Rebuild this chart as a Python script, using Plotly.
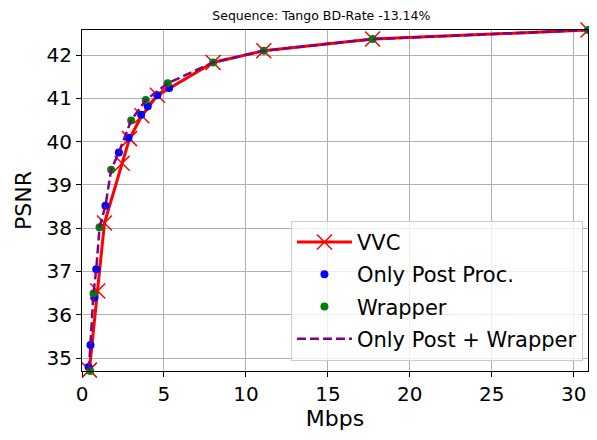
import plotly.graph_objects as go

# Data
vvc_rate = [0.45, 0.96, 1.37, 2.45, 2.90, 3.65, 4.60, 8.00, 11.09, 17.73, 30.87]
vvc_psnr = [34.72, 36.55, 38.12, 39.50, 40.07, 40.60, 41.07, 41.83, 42.10, 42.37, 42.58]

post_rate = [0.40, 0.52, 0.76, 0.87, 1.43, 2.25, 2.84, 3.61, 4.01, 4.60, 5.32]
post_psnr = [34.79, 35.30, 36.39, 37.05, 38.52, 39.75, 40.09, 40.62, 40.82, 41.07, 41.24]

wrap_rate = [0.50, 0.70, 1.07, 1.78, 3.00, 3.89, 5.23, 8.00, 11.09, 17.73, 30.87]
wrap_psnr = [34.70, 36.49, 38.02, 39.35, 40.49, 40.96, 41.35, 41.83, 42.10, 42.37, 42.58]

both_rate = [0.42, 0.52, 0.70, 0.87, 1.07, 1.43, 1.78, 2.25, 3.00, 3.89, 5.23, 8.00, 11.09, 17.73, 30.87]
both_psnr = [34.72, 35.30, 36.49, 37.05, 38.02, 38.52, 39.35, 39.75, 40.49, 40.96, 41.35, 41.83, 42.10, 42.37, 42.58]

x_ticks = [0, 5, 10, 15, 20, 25, 30]
y_ticks = [35, 36, 37, 38, 39, 40, 41, 42]

title_text = "Sequence: Tango BD-Rate -13.14%"

fig = go.Figure()
fig.add_trace(go.Scatter(
    x=vvc_rate, y=vvc_psnr, mode="lines+markers", name="VVC",
    line=dict(color="red", width=3),
    marker=dict(symbol="x-thin-open", size=15, color="red", line=dict(color="red", width=1.5)),
    legendgroup="a", cliponaxis=False))
fig.add_trace(go.Scatter(
    x=post_rate, y=post_psnr, mode="markers", name="Only Post Proc.",
    marker=dict(symbol="circle", size=8, color="blue"),
    legendgroup="b", cliponaxis=False))
fig.add_trace(go.Scatter(
    x=wrap_rate, y=wrap_psnr, mode="markers", name="Wrapper",
    marker=dict(symbol="circle", size=8, color="green"),
    legendgroup="c", cliponaxis=False))
fig.add_trace(go.Scatter(
    x=both_rate, y=both_psnr, mode="lines", name="Only Post + Wrapper",
    line=dict(color="purple", width=2.5, dash="9px,4px"),
    legendgroup="d", cliponaxis=False))

axis_common = dict(
    showgrid=True, gridcolor="#b0b0b0", gridwidth=1,
    showline=True, linecolor="black", linewidth=1.2, mirror=True,
    ticks="outside", ticklen=5, tickwidth=1, tickcolor="black",
    zeroline=False,
    tickfont=dict(size=20, color="black", family="DejaVu Sans"),
)

# page body has an 8px margin; figure is sized to fit in the 597x440 window
fig.update_layout(
    width=581, height=424,
    margin=dict(l=74, r=1, t=22, b=61),
    paper_bgcolor="white", plot_bgcolor="white",
    font=dict(family="DejaVu Sans", color="black"),
    title=dict(text=title_text, x=0.473, xref="paper", xanchor="center",
               y=1 - 3 / 424, yref="container", yanchor="top", pad=dict(t=0, b=0),
               font=dict(size=12.5, color="black")),
    xaxis=dict(range=[0, 30.87], tickvals=x_ticks,
               title=dict(text="Mbps", font=dict(size=22), standoff=4), **axis_common),
    yaxis=dict(range=[34.70, 42.58], tickvals=y_ticks,
               title=dict(text="PSNR", font=dict(size=22), standoff=8), **axis_common),
    legend=dict(x=0.99, y=0.03, xanchor="right", yanchor="bottom",
                bgcolor="rgba(255,255,255,0.8)", bordercolor="#cccccc", borderwidth=1,
                font=dict(size=21, color="black"), tracegroupgap=2, itemwidth=55),
    showlegend=True,
)

fig.write_html("out.html")
